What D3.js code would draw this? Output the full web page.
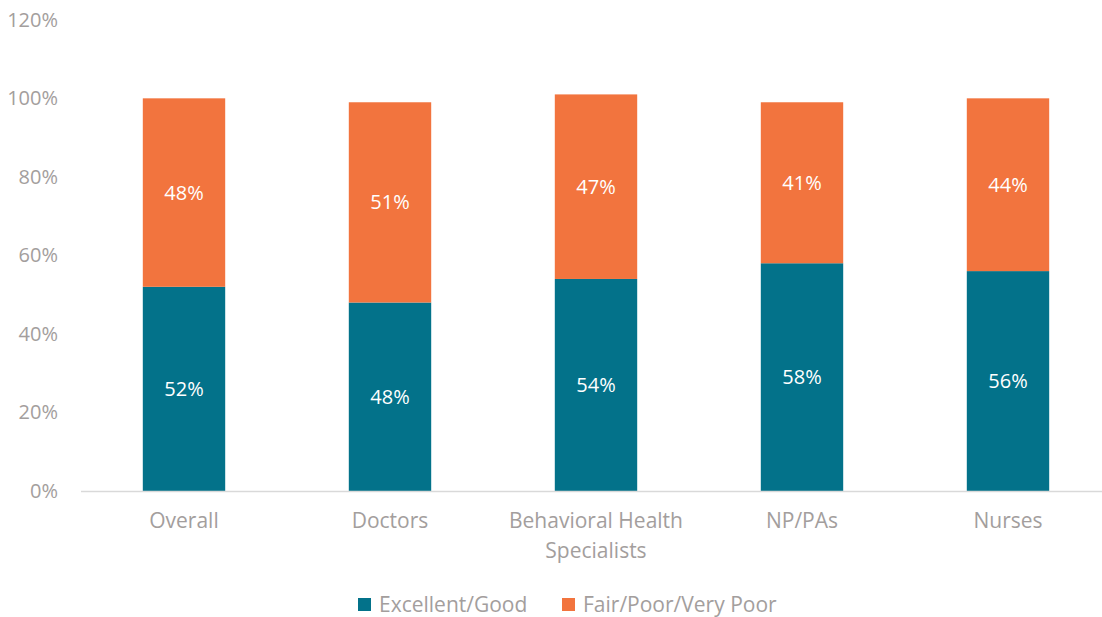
<!DOCTYPE html>
<html><head><meta charset="utf-8">
<script src="https://cdn.jsdelivr.net/npm/d3@7"></script>
<style>body{margin:0;background:#fff}svg{display:block}text{font-family:"Open Sans",Lato,sans-serif}</style>
</head><body><svg id="c" width="1102" height="617"></svg>
<script>
const categories = ["Overall","Doctors","Behavioral Health Specialists","NP/PAs","Nurses"];
const categoryLines = [["Overall"],["Doctors"],["Behavioral Health","Specialists"],["NP/PAs"],["Nurses"]];
const seriesNames = ["Excellent/Good","Fair/Poor/Very Poor"];
const excellentGood = [52,48,54,58,56];
const fairPoor = [48,51,47,41,44];
const yTicks = [0,20,40,60,80,100,120];
const colors = ["#03728A","#F2743E"];

const svg = d3.select("#c");
const x = d3.scaleBand().domain(categories).range([81,1111]).paddingInner(0.6).paddingOuter(0.3);
const y = d3.scaleLinear().domain([0,120]).range([491,19.8]);
const gray = "#A39E9D";
const fsTick = 20, fsVal = 20, fsCat = 21, fsLeg = 21;

// y tick labels
svg.append("g").selectAll("text").data(yTicks).join("text")
  .attr("x",58).attr("y",d=>y(d)).attr("dy","0.35em").attr("text-anchor","end")
  .attr("fill",gray).attr("font-size",fsTick).text(d=>d+"%");

const data = categories.map((c,i)=>({c, vals:[excellentGood[i], fairPoor[i]]}));
data.forEach(d=>{
  let base=0;
  d.vals.forEach((v,j)=>{
    const y0=base, y1=base+v; base=y1;
    svg.append("rect").attr("x",x(d.c)).attr("width",x.bandwidth())
      .attr("y",y(y1)).attr("height",y(y0)-y(y1)).attr("fill",colors[j]);
    svg.append("text").attr("x",x(d.c)+x.bandwidth()/2).attr("y",(y(y0)+y(y1))/2)
      .attr("dy","0.35em").attr("text-anchor","middle").attr("fill","#fff")
      .attr("font-size",fsVal).text(v+"%");
  });
});

// axis line
svg.append("line").attr("x1",81).attr("x2",1111).attr("y1",y(0)+0.5).attr("y2",y(0)+0.5)
  .attr("stroke","#D9D9D9").attr("stroke-width",1.5);

// category labels
categories.forEach((c,i)=>{
  const t = svg.append("text").attr("x",x(c)+x.bandwidth()/2).attr("y",521)
    .attr("text-anchor","middle").attr("fill",gray).attr("font-size",fsCat);
  categoryLines[i].forEach((l,k)=>t.append("tspan").attr("x",x(c)+x.bandwidth()/2).attr("dy",k===0?"0.35em":"30px").text(l));
});

// legend
const legX=[358,562];
seriesNames.forEach((s,i)=>{
  svg.append("rect").attr("x",legX[i]).attr("y",598).attr("width",13).attr("height",13).attr("fill",colors[i]);
  svg.append("text").attr("x",legX[i]+21).attr("y",604.5).attr("dy","0.35em")
    .attr("fill",gray).attr("font-size",fsLeg).text(s);
});
</script></body></html>
